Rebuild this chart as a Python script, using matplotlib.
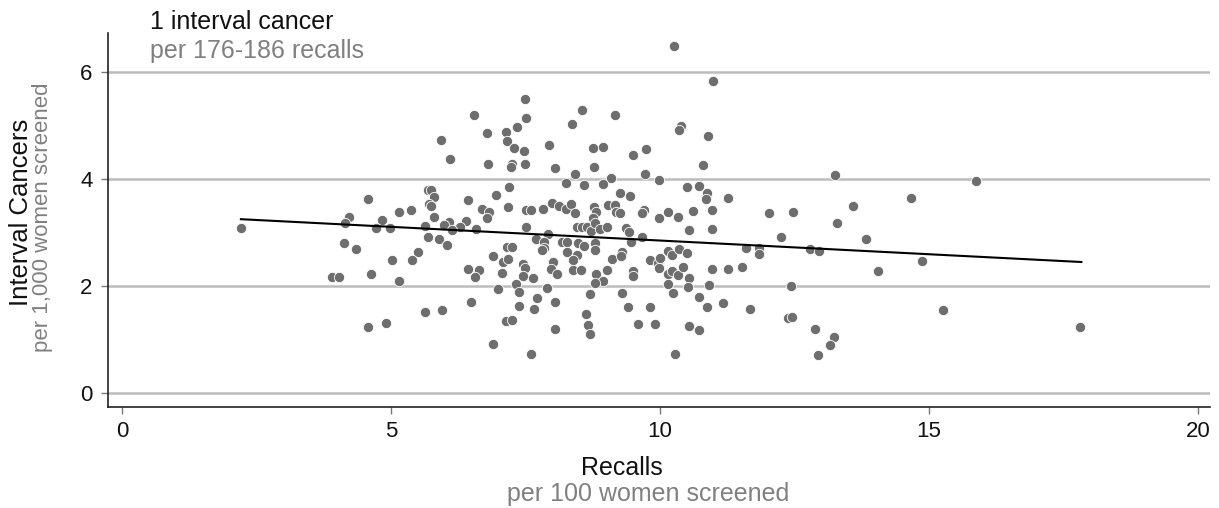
import matplotlib
matplotlib.use("Agg")
import matplotlib.pyplot as plt

plt.rcParams['font.family'] = ['Liberation Sans', 'DejaVu Sans']

recalls = [
    2.21, 5.69, 5.74, 5.80, 4.57, 5.71, 5.74, 4.22, 5.37, 5.15,
    4.83, 5.80, 4.14, 4.72, 4.98, 5.63, 4.13, 4.35, 5.69, 5.89,
    5.50, 5.02, 5.39, 3.90, 4.03, 4.63, 5.15, 5.63, 4.57, 4.91,
    10.26, 7.49, 6.54, 7.51, 8.55, 9.16, 8.36, 10.39, 10.35, 7.34,
    6.78, 7.14, 7.16, 5.93, 7.94, 7.29, 7.47, 8.75, 8.94, 9.74,
    9.50, 6.10, 6.80, 7.25, 7.23, 7.49, 8.05, 8.77, 8.42, 9.72,
    9.09, 9.98, 8.25, 8.59, 8.94, 7.19, 10.50, 9.26, 9.44, 6.95,
    6.43, 6.69, 6.82, 7.17, 7.51, 7.60, 7.83, 7.99, 8.12, 8.25,
    8.35, 8.42, 8.77, 8.81, 9.03, 9.16, 9.18, 9.26, 9.70, 9.67,
    10.15, 9.98, 10.33, 6.08, 6.39, 6.78, 8.75, 5.99, 6.28, 6.58,
    6.13, 7.51, 8.46, 8.55, 8.64, 8.72, 8.79, 8.88, 9.01, 9.37,
    9.42, 10.54, 7.92, 7.70, 7.84, 7.84, 7.81, 8.18, 8.27, 8.48,
    8.59, 8.79, 8.79, 8.46, 8.27, 8.38, 9.46, 9.67, 7.16, 7.25,
    6.90, 7.08, 7.17, 7.45, 7.49, 7.45, 7.64, 8.01, 7.97, 8.09,
    8.38, 8.53, 8.81, 9.01, 8.94, 8.79, 9.11, 9.29, 9.28, 9.50,
    9.50, 9.81, 9.96, 10.00, 9.98, 10.15, 10.22, 10.35, 10.50, 10.15,
    10.22, 10.33, 10.43, 10.54, 10.15, 10.24, 10.52, 6.43, 6.64, 6.56,
    7.06, 7.32, 6.99, 7.38, 7.90, 8.70, 9.29, 6.49, 5.95, 7.71,
    8.05, 7.38, 7.66, 9.41, 9.81, 8.62, 7.14, 7.25, 8.66, 8.70,
    8.05, 9.59, 9.91, 10.54, 6.90, 7.60, 10.28, 6.04, 10.98, 10.89,
    10.80, 13.25, 10.72, 10.87, 10.86, 11.26, 10.61, 10.97, 12.03, 12.47,
    13.59, 14.67, 13.29, 10.97, 12.25, 13.83, 11.60, 11.84, 11.84, 12.79,
    12.96, 14.87, 10.97, 11.26, 11.52, 14.05, 10.91, 12.43, 10.72, 10.87,
    11.17, 11.67, 12.38, 12.45, 10.72, 12.88, 13.23, 13.16, 12.94, 15.87,
    15.26, 17.81,
]

interval_cancers = [
    3.08, 3.79, 3.79, 3.66, 3.63, 3.53, 3.50, 3.29, 3.42, 3.38,
    3.23, 3.29, 3.18, 3.08, 3.08, 3.12, 2.80, 2.69, 2.92, 2.88,
    2.64, 2.49, 2.49, 2.17, 2.17, 2.22, 2.09, 1.51, 1.23, 1.31,
    6.49, 5.50, 5.20, 5.14, 5.29, 5.20, 5.03, 4.99, 4.92, 4.97,
    4.86, 4.88, 4.71, 4.73, 4.64, 4.58, 4.52, 4.58, 4.60, 4.56,
    4.45, 4.37, 4.28, 4.28, 4.22, 4.28, 4.21, 4.22, 4.09, 4.09,
    4.02, 3.98, 3.93, 3.89, 3.91, 3.85, 3.85, 3.74, 3.68, 3.70,
    3.61, 3.44, 3.38, 3.48, 3.42, 3.42, 3.44, 3.55, 3.50, 3.44,
    3.53, 3.36, 3.48, 3.38, 3.51, 3.51, 3.38, 3.36, 3.42, 3.36,
    3.38, 3.27, 3.29, 3.20, 3.21, 3.27, 3.27, 3.14, 3.10, 3.07,
    3.05, 3.10, 3.10, 3.10, 3.10, 3.03, 3.18, 3.07, 3.10, 3.08,
    3.01, 3.05, 2.97, 2.88, 2.82, 2.71, 2.67, 2.82, 2.82, 2.80,
    2.75, 2.80, 2.67, 2.58, 2.64, 2.49, 2.82, 2.92, 2.73, 2.73,
    2.56, 2.45, 2.50, 2.41, 2.34, 2.19, 2.15, 2.45, 2.32, 2.22,
    2.30, 2.30, 2.22, 2.30, 2.09, 2.06, 2.50, 2.64, 2.56, 2.28,
    2.19, 2.49, 2.43, 2.52, 2.34, 2.65, 2.58, 2.69, 2.62, 2.22,
    2.28, 2.21, 2.36, 2.15, 2.04, 1.87, 1.98, 2.32, 2.30, 2.17,
    2.24, 2.04, 1.94, 1.89, 1.96, 1.85, 1.87, 1.70, 1.55, 1.78,
    1.70, 1.63, 1.57, 1.61, 1.61, 1.48, 1.35, 1.36, 1.27, 1.10,
    1.20, 1.29, 1.29, 1.25, 0.92, 0.73, 0.73, 2.77, 5.83, 4.80,
    4.26, 4.07, 3.87, 3.74, 3.63, 3.64, 3.40, 3.42, 3.36, 3.38,
    3.50, 3.64, 3.18, 3.07, 2.92, 2.88, 2.71, 2.71, 2.60, 2.69,
    2.65, 2.47, 2.32, 2.32, 2.36, 2.28, 2.02, 2.00, 1.79, 1.61,
    1.68, 1.57, 1.40, 1.42, 1.18, 1.20, 1.05, 0.90, 0.71, 3.96,
    1.55, 1.23,
]

fit_x = [2.21, 17.83]
fit_y = [3.25, 2.45]

x_ticks = [0, 5, 10, 15, 20]
y_ticks = [0, 2, 4, 6]

W, H = 1219, 508
fig = plt.figure(figsize=(W / 100, H / 100), dpi=100)
ax = fig.add_axes([108 / W, 1 - 407 / H, (1210 - 108) / W, (407 - 33) / H])

ax.set_xlim(-0.26, 20.22)
ax.set_ylim(-0.26, 6.73)

for yv in y_ticks:
    ax.axhline(yv, color='#bcbcbc', lw=1.8, zorder=1)

ax.scatter(recalls, interval_cancers, s=55, color='#6e6e6e',
           edgecolors='white', linewidths=0.6, zorder=3)
ax.plot(fit_x, fit_y, color='black', lw=1.5, zorder=4)

ax.set_xticks(x_ticks)
ax.set_yticks(y_ticks)
ax.tick_params(axis='both', length=5, width=1, color='#777777',
               labelsize=16, labelcolor='#111111', direction='out')
ax.tick_params(axis='x', pad=5)
ax.tick_params(axis='y', pad=6)

for side in ['top', 'right']:
    ax.spines[side].set_visible(False)
for side in ['left', 'bottom']:
    ax.spines[side].set_color('#222222')
    ax.spines[side].set_linewidth(1.2)

# Axis titles
fig.text(622 / W, 1 - 468 / H, 'Recalls', ha='center', va='center',
         fontsize=18, color='#111111')
fig.text(648 / W, 1 - 494 / H, 'per 100 women screened', ha='center',
         va='center', fontsize=18, color='#808080')
fig.text(21 / W, 1 - 212 / H, 'Interval Cancers', ha='center', va='center',
         rotation=90, fontsize=18.5, color='#111111')
fig.text(43 / W, 1 - 217 / H, 'per 1,000 women screened', ha='center',
         va='center', rotation=90, fontsize=16, color='#808080')

# Top-left annotation
fig.text(150 / W, 1 - 22 / H, '1 interval cancer', ha='left', va='center',
         fontsize=18, color='#111111')
fig.text(150 / W, 1 - 51 / H, 'per 176-186 recalls', ha='left', va='center',
         fontsize=18, color='#808080')

fig.savefig('out.png', dpi=100, facecolor='white')
